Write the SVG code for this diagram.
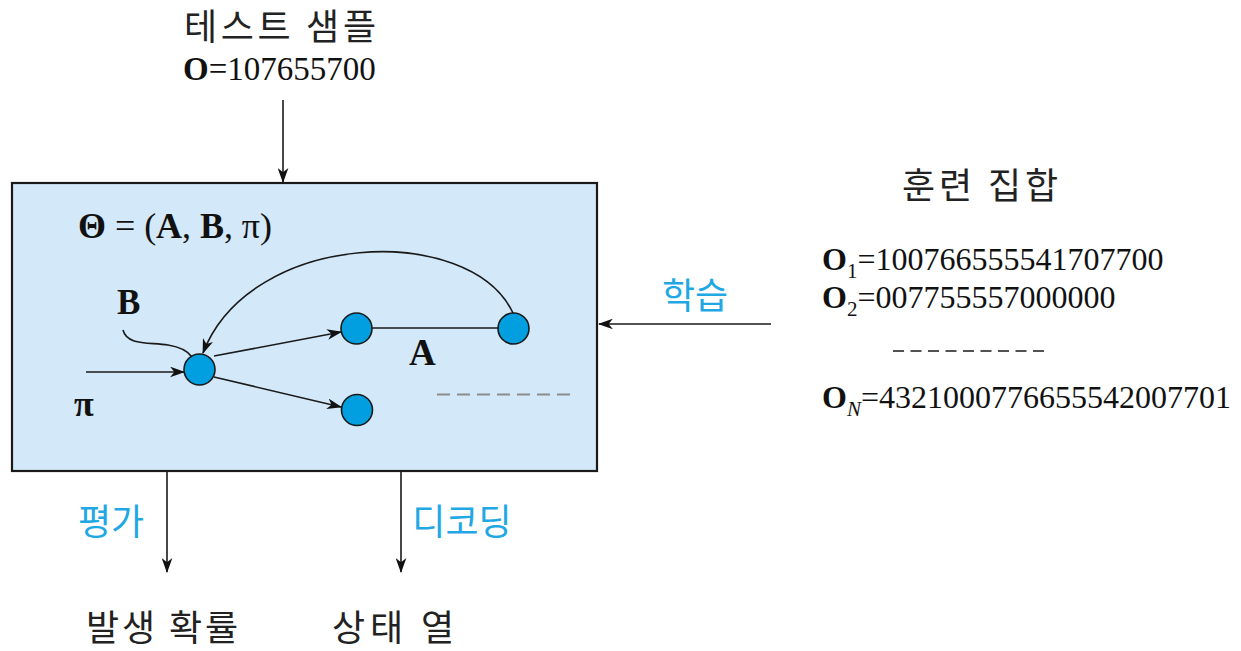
<svg xmlns="http://www.w3.org/2000/svg" width="1241" height="651" viewBox="0 0 1241 651">
<defs>
<style>
.kr{font-family:"Noto Sans CJK KR","Noto Sans",sans-serif;font-size:36px;fill:#222}
.blue{fill:#1fa8e4}
.sf{font-family:"Liberation Serif","Times New Roman",serif;fill:#111}
.b{font-weight:bold}
.ln{stroke:#1a1a1a;stroke-width:1.6;fill:none}
.node{fill:#019fe0;stroke:#1a1a1a;stroke-width:1.6}
</style>
<marker id="ah" viewBox="0 0 14 10" refX="13" refY="5" markerWidth="15" markerHeight="11" markerUnits="userSpaceOnUse" orient="auto">
<path d="M0,0 L14,5 L0,10 L4,5 Z" fill="#111"/>
</marker>
</defs>
<rect width="1241" height="651" fill="#fff"/>

<g id="model-box">
<rect x="12" y="183" width="585" height="288" fill="#d3e8f8" stroke="#1a1a1a" stroke-width="2.2"/>
<text x="78" y="238" class="sf b" font-size="36" textLength="194"><tspan>Θ</tspan><tspan font-weight="normal"> = (</tspan><tspan>A</tspan><tspan font-weight="normal">, </tspan><tspan>B</tspan><tspan font-weight="normal">, π)</tspan></text>
<line x1="437" y1="394.5" x2="573" y2="394.5" stroke="#8c8c8c" stroke-width="2" stroke-dasharray="13,7"/>
</g>

<g id="connectors">
<line class="ln" x1="283" y1="100" x2="283" y2="182" marker-end="url(#ah)"/>
<line class="ln" x1="771" y1="324" x2="599" y2="324" marker-end="url(#ah)"/>
<line class="ln" x1="167" y1="472" x2="167" y2="572" marker-end="url(#ah)"/>
<line class="ln" x1="401" y1="472" x2="401" y2="572" marker-end="url(#ah)"/>
<line class="ln" x1="86" y1="372" x2="184" y2="372" marker-end="url(#ah)"/>
<path class="ln" d="M123,330 C127,346 150,342 168,345 C180,347 188,351 192,357"/>
<path class="ln" d="M513,313 C470,222 250,230 203,353" marker-end="url(#ah)"/>
<line class="ln" x1="214" y1="356" x2="341" y2="332" marker-end="url(#ah)"/>
<line class="ln" x1="214" y1="377" x2="341" y2="407" marker-end="url(#ah)"/>
<line class="ln" x1="372" y1="328" x2="498" y2="328"/>
</g>

<g id="node-start"><circle class="node" cx="199.5" cy="369.5" r="15.5"/></g>
<g id="node-a"><circle class="node" cx="356.5" cy="328.5" r="15.5"/></g>
<g id="node-b"><circle class="node" cx="513.5" cy="328.5" r="15.5"/></g>
<g id="node-c"><circle class="node" cx="357" cy="410" r="15.5"/></g>

<g id="labels-inner">
<text x="117" y="314" class="sf b" font-size="35">B</text>
<text x="74" y="416" class="sf b" font-size="36">π</text>
<text x="409" y="365" class="sf b" font-size="37">A</text>
</g>

<g id="test-sample">
<text x="184" y="40" class="kr" textLength="192">테스트 샘플</text>
<text x="183" y="80" class="sf" font-size="33"><tspan class="b">O</tspan>=107655700</text>
</g>

<g id="training-set">
<text x="902" y="199" class="kr" textLength="156">훈련 집합</text>
<text x="822" y="270" class="sf" font-size="32"><tspan class="b">O</tspan><tspan font-size="21" dy="8">1</tspan><tspan dy="-8">=100766555541707700</tspan></text>
<text x="822" y="308" class="sf" font-size="32"><tspan class="b">O</tspan><tspan font-size="21" dy="8">2</tspan><tspan dy="-8">=007755557000000</tspan></text>
<line x1="893" y1="351" x2="1048" y2="351" stroke="#1a1a1a" stroke-width="1.6" stroke-dasharray="11,6.5"/>
<text x="822" y="408" class="sf" font-size="32"><tspan class="b">O</tspan><tspan font-size="21" dy="8" font-style="italic">N</tspan><tspan dy="-8">=4321000776655542007701</tspan></text>
</g>

<g id="edge-labels">
<text x="695" y="309" class="kr blue" text-anchor="middle">학습</text>
<text x="111" y="535" class="kr blue" text-anchor="middle">평가</text>
<text x="462" y="535" class="kr blue" text-anchor="middle">디코딩</text>
</g>

<g id="outputs">
<text x="86" y="641" class="kr" textLength="152">발생 확률</text>
<text x="332" y="641" class="kr" textLength="122">상태 열</text>
</g>
</svg>
